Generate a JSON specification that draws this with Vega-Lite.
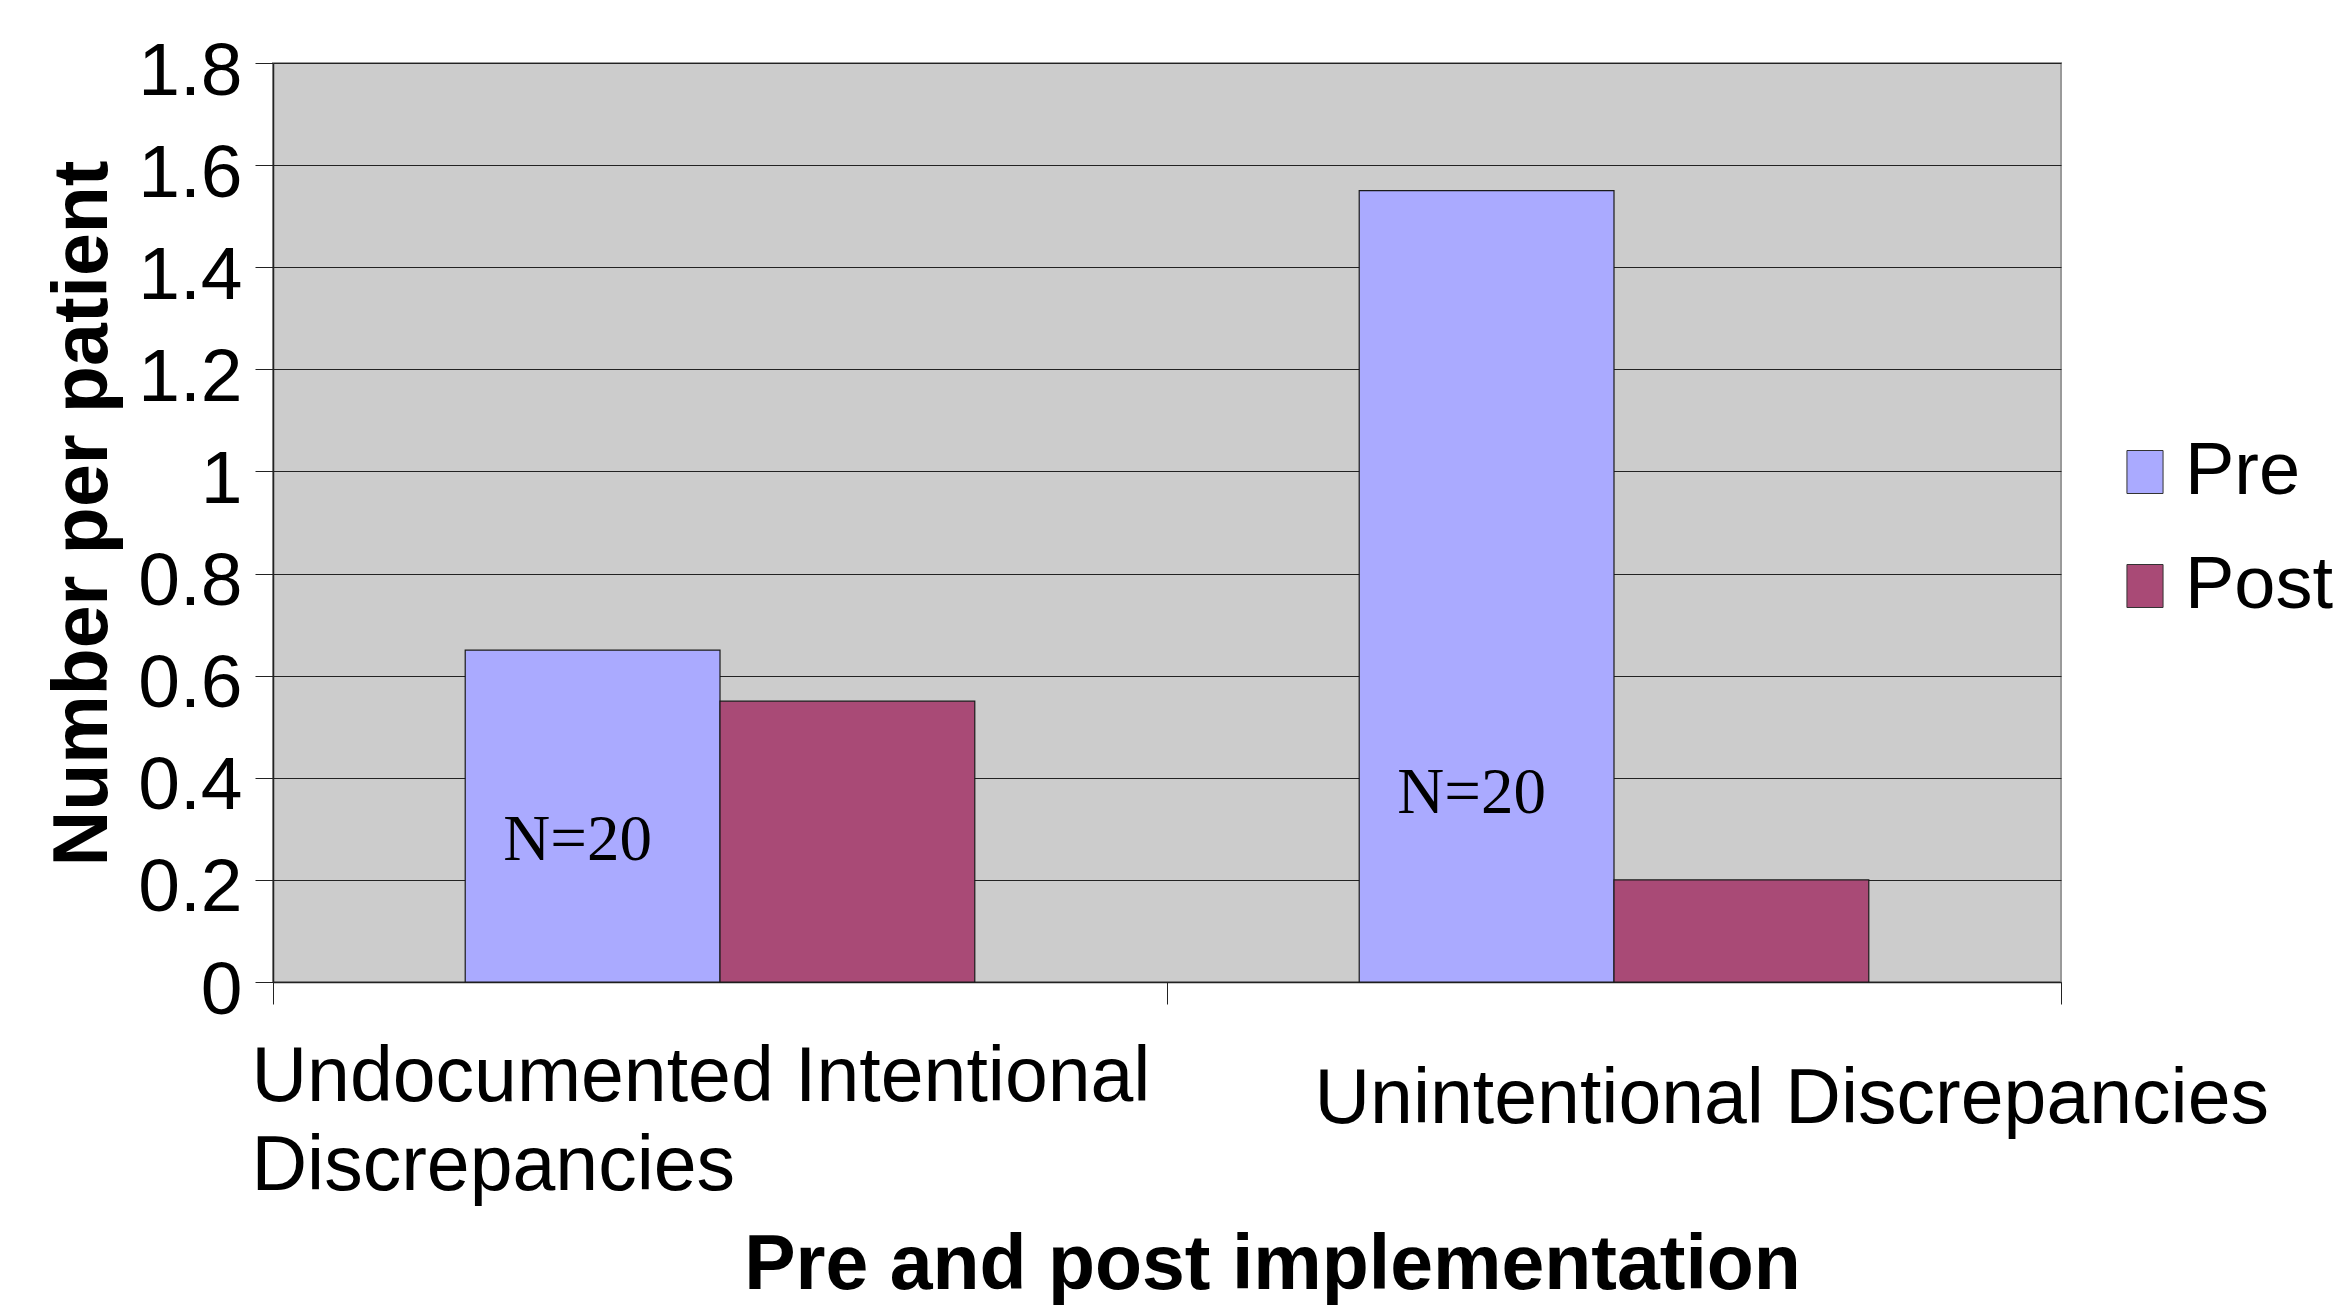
{
  "$schema": "https://vega.github.io/schema/vega-lite/v6.json",
  "width": 1788,
  "height": 919,
  "autosize": {"type": "none"},
  "padding": {"left": 273, "top": 63, "right": 279, "bottom": 330},
  "background": "white",
  "config": {
    "font": "Liberation Sans",
    "view": {"fill": "#cccccc", "stroke": "#9a9a9a", "strokeWidth": 2}
  },
  "datasets": {
    "bars": [
      {"category": "Undocumented Intentional Discrepancies", "group": "Pre", "value": 0.65},
      {"category": "Undocumented Intentional Discrepancies", "group": "Post", "value": 0.55},
      {"category": "Unintentional Discrepancies", "group": "Pre", "value": 1.55},
      {"category": "Unintentional Discrepancies", "group": "Post", "value": 0.2}
    ],
    "notes": [
      {"category": "Undocumented Intentional Discrepancies", "group": "Pre", "label": "N=20", "pos": 0.278},
      {"category": "Unintentional Discrepancies", "group": "Pre", "label": "N=20", "pos": 0.37}
    ]
  },
  "layer": [
    {
      "data": {"name": "bars"},
      "mark": {"type": "bar", "stroke": "#1a1a1a", "strokeWidth": 1.2},
      "encoding": {
        "x": {
          "field": "category",
          "type": "nominal",
          "sort": null,
          "scale": {"domain": ["Undocumented Intentional Discrepancies", "Unintentional Discrepancies"], "paddingInner": 0, "paddingOuter": 0},
          "axis": {
            "title": "Pre and post implementation",
            "titleFontSize": 77,
            "titleFontWeight": "bold",
            "titleColor": "black",
            "titleX": 999,
            "titleY": 306,
            "titleBaseline": "alphabetic",
            "titleAlign": "center",
            "labelFontSize": 77,
            "labelColor": "black",
            "labelAlign": "left",
            "labelBaseline": "top",
            "labelLimit": 0,
            "labelOverlap": false,
            "labelAngle": 0,
            "labelLineHeight": 89,
            "labelExpr": "datum.value === 'Undocumented Intentional Discrepancies' ? ['Undocumented Intentional', 'Discrepancies'] : datum.value",
            "labelOffset": {"condition": {"test": "datum.value === 'Unintentional Discrepancies'", "value": -300}, "value": -469},
            "labelPadding": {"condition": {"test": "datum.value === 'Unintentional Discrepancies'", "value": 57}, "value": 35},
            "tickBand": "extent",
            "tickSize": 22,
            "tickColor": "#222222",
            "domainColor": "#222222",
            "domainWidth": 1.5,
            "grid": false
          }
        },
        "xOffset": {"field": "group", "sort": ["Pre", "Post"], "scale": {"domain": ["Pre", "Post"], "paddingInner": 0, "paddingOuter": 0.7544}},
        "y": {
          "field": "value",
          "type": "quantitative",
          "scale": {"domain": [0, 1.8], "nice": false},
          "axis": {
            "title": "Number per patient",
            "titleFontSize": 77,
            "titleFontWeight": "bold",
            "titleColor": "black",
            "titleX": -167,
            "titleY": 450,
            "titleAngle": -90,
            "titleBaseline": "alphabetic",
            "titleAlign": "center",
            "values": [0, 0.2, 0.4, 0.6, 0.8, 1, 1.2, 1.4, 1.6, 1.8],
            "format": "~g",
            "labelFontSize": 75,
            "labelColor": "black",
            "labelPadding": 13,
            "labelOffset": 8,
            "tickSize": 18,
            "tickColor": "#222222",
            "domainColor": "#222222",
            "domainWidth": 1.5,
            "grid": true,
            "gridColor": "#222222",
            "gridWidth": 1.2
          }
        },
        "color": {
          "field": "group",
          "type": "nominal",
          "sort": ["Pre", "Post"],
          "scale": {"domain": ["Pre", "Post"], "range": ["#aaaaff", "#a94a76"]},
          "legend": {
            "orient": "none",
            "legendX": 1835,
            "legendY": 372,
            "title": null,
            "labelFontSize": 74,
            "labelColor": "black",
            "symbolType": "M-0.84,-1H0.84V1H-0.84Z",
            "symbolSize": 1849,
            "symbolStrokeColor": "#333333",
            "symbolStrokeWidth": 1,
            "symbolOpacity": 1,
            "labelOffset": 3,
            "rowPadding": 40,
            "padding": 0
          }
        }
      }
    },
    {
      "data": {"name": "notes"},
      "mark": {"type": "text", "font": "Liberation Serif", "fontSize": 65, "dx": -15, "baseline": "middle", "align": "center", "color": "black"},
      "encoding": {
        "x": {"field": "category", "type": "nominal", "sort": null},
        "xOffset": {"field": "group", "sort": ["Pre", "Post"]},
        "y": {"field": "pos", "type": "quantitative"},
        "text": {"field": "label"}
      }
    }
  ]
}
